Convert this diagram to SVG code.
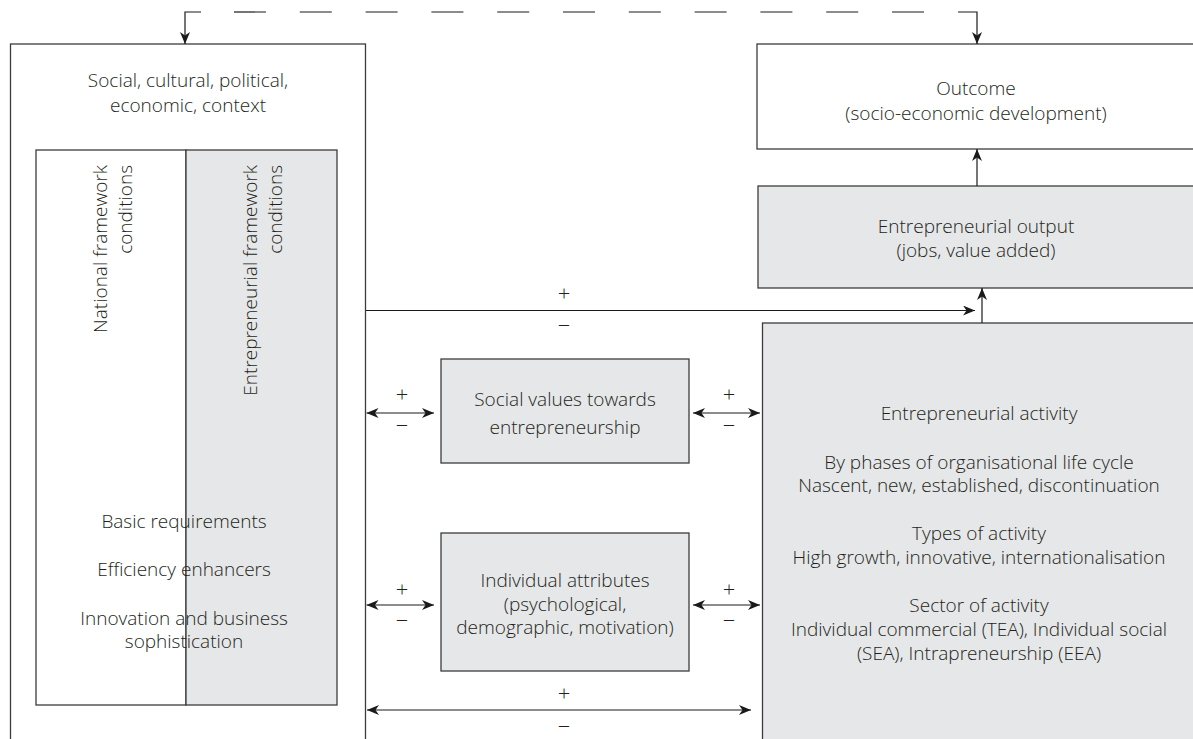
<svg xmlns="http://www.w3.org/2000/svg" width="1193" height="739" viewBox="0 0 1193 739">
  <style>
    .box { stroke: #3c3c3c; stroke-width: 1.3; }
    .white { fill: #ffffff; }
    .grey { fill: #e6e7e8; }
    .t { font-family: "Open Sans", "Liberation Sans", sans-serif; font-weight: 300; font-size: 19px; fill: #231f20; text-anchor: middle; }
    .tv { font-family: "Open Sans", "Liberation Sans", sans-serif; font-weight: 300; font-size: 19px; fill: #231f20; text-anchor: end; }
    .sign { font-family: "Open Sans", "Liberation Sans", sans-serif; font-weight: 300; font-size: 22px; fill: #231f20; text-anchor: middle; }
    .ln { stroke: #1a1a1a; stroke-width: 1.2; fill: none; }
    .dash { stroke: #1a1a1a; stroke-width: 1.2; fill: none; stroke-dasharray: 32 33.8; }
  </style>
  <defs>
    <marker id="ah" viewBox="0 0 12 10" refX="12" refY="5" markerWidth="12" markerHeight="10" markerUnits="userSpaceOnUse" orient="auto-start-reverse">
      <path d="M0,0 L12,5 L0,10 L3.5,5 z" fill="#1a1a1a"/>
    </marker>
  </defs>

  <rect width="1193" height="739" fill="#ffffff"/>

  <!-- Context box with framework conditions -->
  <g id="context">
    <rect class="box white" x="10.5" y="44" width="355" height="720"/>
    <text class="t" x="188" y="87">Social, cultural, political,</text>
    <text class="t" x="188" y="112">economic, context</text>
  </g>

  <g id="framework">
    <rect class="box white" x="36" y="150" width="150" height="555"/>
    <rect class="box grey" x="186" y="150" width="151" height="555"/>
    <text class="tv" transform="translate(107,165) rotate(-90)">National framework</text>
    <text class="tv" transform="translate(132,165) rotate(-90)">conditions</text>
    <text class="tv" transform="translate(257,165) rotate(-90)">Entrepreneurial framework</text>
    <text class="tv" transform="translate(282,165) rotate(-90)">conditions</text>
    <text class="t" x="184" y="528">Basic requirements</text>
    <text class="t" x="184" y="576">Efficiency enhancers</text>
    <text class="t" x="184" y="625">Innovation and business</text>
    <text class="t" x="184" y="648">sophistication</text>
  </g>

  <g id="outcome">
    <rect class="box white" x="757" y="44" width="450" height="105"/>
    <text class="t" x="976" y="95">Outcome</text>
    <text class="t" x="976" y="120">(socio-economic development)</text>
  </g>

  <g id="output">
    <rect class="box grey" x="758" y="186" width="450" height="102"/>
    <text class="t" x="976" y="233">Entrepreneurial output</text>
    <text class="t" x="976" y="257">(jobs, value added)</text>
  </g>

  <g id="social-values">
    <rect class="box grey" x="441" y="359" width="248" height="104"/>
    <text class="t" x="565" y="406">Social values towards</text>
    <text class="t" x="565" y="434">entrepreneurship</text>
  </g>

  <g id="attributes">
    <rect class="box grey" x="441" y="533" width="248" height="138"/>
    <text class="t" x="565" y="587">Individual attributes</text>
    <text class="t" x="565" y="611">(psychological,</text>
    <text class="t" x="565" y="634">demographic, motivation)</text>
  </g>

  <g id="activity">
    <rect class="box grey" x="762.5" y="323" width="450" height="440"/>
    <text class="t" x="979" y="420">Entrepreneurial activity</text>
    <text class="t" x="979" y="469">By phases of organisational life cycle</text>
    <text class="t" x="979" y="492">Nascent, new, established, discontinuation</text>
    <text class="t" x="979" y="540">Types of activity</text>
    <text class="t" x="979" y="564">High growth, innovative, internationalisation</text>
    <text class="t" x="979" y="612">Sector of activity</text>
    <text class="t" x="979" y="636">Individual commercial (TEA), Individual social</text>
    <text class="t" x="979" y="660">(SEA), Intrapreneurship (EEA)</text>
  </g>

  <!-- Connectors -->
  <g id="connectors">
    <!-- feedback loop from outcome back to context -->
    <path class="ln" d="M201,12 H185 V44" marker-end="url(#ah)"/>
    <path class="dash" d="M234,12 H925"/>
    <path class="ln" d="M958,12 H977 V44" marker-end="url(#ah)"/>

    <!-- output to outcome -->
    <path class="ln" d="M977,186 V149" marker-end="url(#ah)"/>
    <!-- activity to output -->
    <path class="ln" d="M982,323 V288" marker-end="url(#ah)"/>
    <!-- context to output -->
    <path class="ln" d="M366,310.5 H975" marker-end="url(#ah)"/>

    <!-- context <-> social values <-> activity -->
    <path class="ln" d="M366.5,413 H434" marker-start="url(#ah)" marker-end="url(#ah)"/>
    <path class="ln" d="M693,413 H760" marker-start="url(#ah)" marker-end="url(#ah)"/>

    <!-- context <-> attributes <-> activity -->
    <path class="ln" d="M366.5,605 H434" marker-start="url(#ah)" marker-end="url(#ah)"/>
    <path class="ln" d="M693,605 H760" marker-start="url(#ah)" marker-end="url(#ah)"/>

    <!-- context <-> activity -->
    <path class="ln" d="M367,710 H751" marker-start="url(#ah)" marker-end="url(#ah)"/>

    <!-- signs -->
    <text class="sign" x="564" y="301">+</text>
    <text class="sign" x="564" y="333">−</text>
    <text class="sign" x="402" y="402">+</text>
    <text class="sign" x="402" y="433">−</text>
    <text class="sign" x="729" y="402">+</text>
    <text class="sign" x="729" y="433">−</text>
    <text class="sign" x="402" y="597">+</text>
    <text class="sign" x="402" y="628">−</text>
    <text class="sign" x="729" y="597">+</text>
    <text class="sign" x="729" y="628">−</text>
    <text class="sign" x="564" y="701">+</text>
    <text class="sign" x="564" y="734">−</text>
  </g>
</svg>
